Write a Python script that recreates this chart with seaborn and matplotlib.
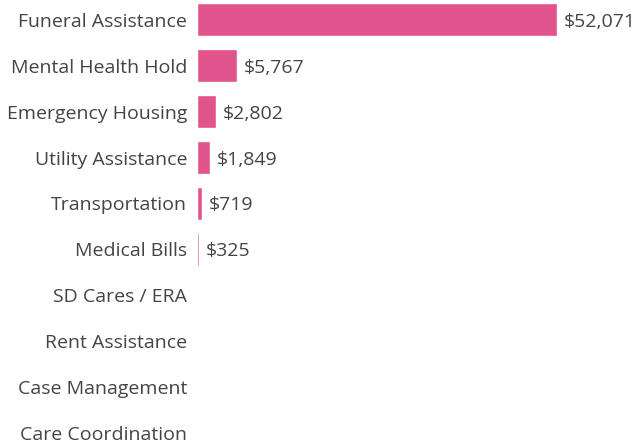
import pandas as pd
import matplotlib
matplotlib.use("Agg")
import matplotlib.pyplot as plt
import seaborn as sns

categories = ["Funeral Assistance", "Mental Health Hold", "Emergency Housing",
              "Utility Assistance", "Transportation", "Medical Bills",
              "SD Cares / ERA", "Rent Assistance", "Case Management",
              "Care Coordination"]
amounts = [52071, 5767, 2802, 1849, 719, 325, 0, 0, 0, 0]

df = pd.DataFrame({"category": categories, "amount": amounts})

sns.set_style("white")
plt.rcParams["font.family"] = ["Open Sans", "DejaVu Sans"]

fig = plt.figure(figsize=(6.41, 4.44), dpi=100)
ax = fig.add_axes([0.307, -0.027, 0.693, 1.034])

sns.barplot(data=df, x="amount", y="category", orient="h", color="#E0548B",
            saturation=1, width=0.72, ax=ax)

for i, v in enumerate(amounts):
    if v > 0:
        ax.annotate(f"${v:,}", (v, i), xytext=(5, 0), textcoords="offset points",
                    va="center_baseline", ha="left", fontsize=14, color="#444444")

ax.set_xlim(0, 52071 * 444 / 360)
ax.set_ylim(len(categories) - 0.5, -0.5)
ax.set_xlabel("")
ax.set_ylabel("")
ax.set_xticks([])
ax.tick_params(axis="y", length=0, pad=7, labelsize=14, labelcolor="#444444")
for lbl in ax.get_yticklabels():
    lbl.set_verticalalignment("center_baseline")
sns.despine(ax=ax, left=True, bottom=True)

fig.savefig("out.png", dpi=100)
